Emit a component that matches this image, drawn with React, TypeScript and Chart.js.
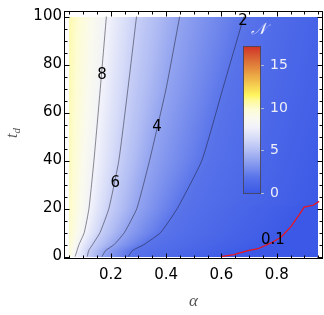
import React, { useEffect, useRef } from "react";
import { Chart, registerables } from "chart.js";
Chart.register(...registerables);

// ---- axis ticks ----
const xTickValues = [0.2, 0.4, 0.6, 0.8];
const yTickValues = [0, 20, 40, 60, 80, 100];
const xMinorStep = 0.05;
const yMinorStep = 5;
const colorbarTicks = [0, 5, 10, 15];

// ---- data domain ----
const alphaMin = 0.05;
const alphaMax = 0.95;
const tdMin = 0;
const tdMax = 100;
const nMin = 0;
const nMax = 17.4;

// ---- contour positions (alpha where N equals the level) at each t_d row ----
const tdRows = [0, 2.5, 5, 10, 20, 40, 70, 100];
const alphaN8 = [0.071, 0.078, 0.085, 0.104, 0.121, 0.139, 0.162, 0.184];
const alphaN6 = [0.115, 0.120, 0.134, 0.161, 0.193, 0.229, 0.262, 0.293];
const alphaN4 = [0.168, 0.181, 0.212, 0.249, 0.294, 0.340, 0.400, 0.449];
const alphaN2 = [0.263, 0.278, 0.320, 0.380, 0.440, 0.529, 0.605, 0.681];
const leftEdgeN = [9.6, 9.8, 10.0, 10.2, 10.3, 10.4, 10.5, 10.6];
const rightEdgeN = [0.02, 0.03, 0.04, 0.06, 0.09, 0.3, 0.6, 0.8];

// ---- N = 0.1 contour (red) ----
const redAlpha = [0.598, 0.645, 0.696, 0.732, 0.779, 0.815, 0.851, 0.880, 0.899, 0.931, 0.953];
const redTd = [0, 0.85, 2.5, 3.3, 5.7, 8.1, 12.5, 17.3, 20.6, 21.4, 23];

// ---- contour labels ----
const contourLabels = ["8", "6", "4", "2", "0.1"];
const labelAlpha = [0.168, 0.216, 0.367, 0.678, 0.786];
const labelTd = [75.5, 30.6, 53.9, 98.2, 6.9];

// colour map (value, r, g, b)
const CMAP: number[][] = [
  [0, 58, 88, 230],
  [1.8, 85, 112, 233],
  [3.4, 130, 150, 238],
  [5, 175, 187, 243],
  [6.6, 215, 220, 248],
  [7.8, 240, 241, 250],
  [9, 250, 250, 238],
  [10, 253, 252, 210],
  [11, 255, 249, 150],
  [11.6, 255, 245, 95],
  [12.6, 246, 212, 82],
  [13.8, 236, 172, 70],
  [15, 226, 132, 60],
  [16.2, 216, 92, 50],
  [17.4, 208, 48, 40],
];

function lerpArr(xs: number[], ys: number[], x: number): number {
  const n = xs.length;
  if (x <= xs[0]) return ys[0];
  if (x >= xs[n - 1]) return ys[n - 1];
  for (let i = 0; i < n - 1; i++) {
    if (x <= xs[i + 1]) {
      const f = (x - xs[i]) / (xs[i + 1] - xs[i] || 1);
      return ys[i] + f * (ys[i + 1] - ys[i]);
    }
  }
  return ys[n - 1];
}

function colorFor(v: number): number[] {
  if (v <= CMAP[0][0]) return CMAP[0].slice(1);
  for (let i = 0; i < CMAP.length - 1; i++) {
    const a = CMAP[i], b = CMAP[i + 1];
    if (v <= b[0]) {
      const f = (v - a[0]) / (b[0] - a[0]);
      return [a[1] + f * (b[1] - a[1]), a[2] + f * (b[2] - a[2]), a[3] + f * (b[3] - a[3])];
    }
  }
  return CMAP[CMAP.length - 1].slice(1);
}

function nAt(alpha: number, td: number): number {
  const kx = [alphaMin, lerpArr(tdRows, alphaN8, td), lerpArr(tdRows, alphaN6, td), lerpArr(tdRows, alphaN4, td), lerpArr(tdRows, alphaN2, td)];
  const ky = [lerpArr(tdRows, leftEdgeN, td), 8, 6, 4, 2];
  let right = lerpArr(tdRows, rightEdgeN, td);
  if (td <= redTd[redTd.length - 1]) {
    const a01 = lerpArr(redTd, redAlpha, td);
    if (a01 < alphaMax) {
      kx.push(a01);
      ky.push(0.1);
      right = Math.min(right, 0.09);
    }
  }
  kx.push(alphaMax);
  ky.push(right);
  return lerpArr(kx, ky, alpha);
}

const densityPlugin = {
  id: "density",
  beforeDatasetsDraw(chart: any) {
    const { ctx, scales } = chart;
    const xs = scales.x, ys = scales.y;
    const x0 = Math.round(xs.getPixelForValue(alphaMin));
    const x1 = Math.round(xs.getPixelForValue(alphaMax));
    const y0 = Math.round(ys.getPixelForValue(tdMax));
    const y1 = Math.round(ys.getPixelForValue(tdMin));
    const w = x1 - x0, h = y1 - y0;
    const off = document.createElement("canvas");
    off.width = w;
    off.height = h;
    const octx = off.getContext("2d")!;
    const img = octx.createImageData(w, h);
    for (let j = 0; j < h; j++) {
      const td = Math.min(tdMax, Math.max(tdMin, ys.getValueForPixel(y0 + j + 0.5)));
      for (let i = 0; i < w; i++) {
        const a = Math.min(alphaMax, Math.max(alphaMin, xs.getValueForPixel(x0 + i + 0.5)));
        const c = colorFor(nAt(a, td));
        const k = (j * w + i) * 4;
        img.data[k] = c[0];
        img.data[k + 1] = c[1];
        img.data[k + 2] = c[2];
        img.data[k + 3] = 255;
      }
    }
    octx.putImageData(img, 0, 0);
    ctx.save();
    ctx.drawImage(off, x0, y0);
    ctx.restore();
  },
};

const overlayPlugin = {
  id: "overlay",
  afterDatasetsDraw(chart: any) {
    const { ctx, chartArea: ca, scales } = chart;
    const xs = scales.x, ys = scales.y;
    ctx.save();
    // contour labels
    ctx.fillStyle = "#000";
    ctx.font = "15px 'DejaVu Sans'";
    ctx.textAlign = "center";
    ctx.textBaseline = "middle";
    contourLabels.forEach((s, i) => {
      ctx.fillText(s, xs.getPixelForValue(labelAlpha[i]), ys.getPixelForValue(labelTd[i]));
    });

    // frame
    ctx.strokeStyle = "#000";
    ctx.lineWidth = 1;
    const L = ca.left + 0.5, R = ca.right - 0.5, T = ca.top + 0.5, B = ca.bottom - 0.5;
    ctx.strokeRect(L, T, R - L, B - T);
    // ticks (inward)
    ctx.beginPath();
    const xMaj = (v: number) => xTickValues.some((m) => Math.abs(m - v) < 1e-6);
    for (let v = 0; v <= 1.0001; v += xMinorStep) {
      const val = Math.round(v * 100) / 100;
      if (val < xs.min || val > xs.max) continue;
      const px = Math.round(xs.getPixelForValue(val)) + 0.5;
      const len = xMaj(val) ? 5 : 3;
      ctx.moveTo(px, B); ctx.lineTo(px, B - len);
      ctx.moveTo(px, T); ctx.lineTo(px, T + len);
    }
    const yMaj = (v: number) => yTickValues.includes(v);
    for (let v = 0; v <= 105; v += yMinorStep) {
      if (v < ys.min || v > ys.max) continue;
      const py = Math.round(ys.getPixelForValue(v)) + 0.5;
      const len = yMaj(v) ? 5 : 3;
      ctx.moveTo(L, py); ctx.lineTo(L + len, py);
      ctx.moveTo(R, py); ctx.lineTo(R - len, py);
    }
    ctx.stroke();

    // colour bar legend
    const bx0 = 243, bx1 = 261, byTop = 46, byBot = 194;
    const vy = (v: number) => byBot - ((v - nMin) / (nMax - nMin)) * (byBot - byTop);
    for (let py = byTop; py < byBot; py++) {
      const v = nMin + ((byBot - (py + 0.5)) / (byBot - byTop)) * (nMax - nMin);
      const c = colorFor(v);
      ctx.fillStyle = `rgb(${c[0]},${c[1]},${c[2]})`;
      ctx.fillRect(bx0, py, bx1 - bx0, 1);
    }
    ctx.strokeStyle = "rgba(70,70,90,0.9)";
    ctx.strokeRect(bx0 + 0.5, byTop + 0.5, bx1 - bx0 - 1, byBot - byTop - 1);
    ctx.strokeStyle = "rgba(190,195,215,0.9)";
    ctx.beginPath();
    colorbarTicks.forEach((v) => {
      const py = Math.round(vy(v)) - 0.5;
      ctx.moveTo(bx1, py); ctx.lineTo(bx1 + 3, py);
    });
    ctx.stroke();
    ctx.fillStyle = "rgb(238,238,248)";
    ctx.font = "14px 'DejaVu Sans'";
    ctx.textAlign = "left";
    ctx.textBaseline = "middle";
    colorbarTicks.forEach((v) => {
      ctx.fillText(String(v), 270, vy(v) - 1);
    });
    ctx.font = "italic 16px 'DejaVu Serif'";
    ctx.textAlign = "center";
    ctx.fillText("𝒩", 258, 30);

    // axis titles
    ctx.fillStyle = "#555";
    ctx.font = "italic 17px 'Liberation Serif'";
    ctx.textAlign = "center";
    ctx.textBaseline = "middle";
    ctx.fillText("α", (ca.left + ca.right) / 2, 302);

    ctx.translate(12, 133);
    ctx.rotate(-Math.PI / 2);
    ctx.textAlign = "left";
    ctx.textBaseline = "alphabetic";
    ctx.font = "italic 16px 'Liberation Serif'";
    const tw = ctx.measureText("t").width;
    ctx.font = "italic 11px 'Liberation Serif'";
    const dw = ctx.measureText("d").width;
    const startX = -(tw + dw) / 2;
    ctx.font = "italic 16px 'Liberation Serif'";
    ctx.fillText("t", startX, 5);
    ctx.font = "italic 11px 'Liberation Serif'";
    ctx.fillText("d", startX + tw, 8);
    ctx.restore();
  },
};

const contourStyle = { showLine: true, pointRadius: 0, borderWidth: 1, borderColor: "rgba(25,25,40,0.5)", tension: 0.15, fill: false };

export default function App() {
  const ref = useRef<HTMLCanvasElement>(null);
  useEffect(() => {
    document.body.style.margin = "0";
    const toPts = (arr: number[]) => arr.map((a, i) => ({ x: a, y: tdRows[i] }));
    const chart = new Chart(ref.current!, {
      type: "scatter",
      data: {
        datasets: [
          { ...contourStyle, data: toPts(alphaN8) },
          { ...contourStyle, data: toPts(alphaN6) },
          { ...contourStyle, data: toPts(alphaN4) },
          { ...contourStyle, data: toPts(alphaN2) },
          { ...contourStyle, borderColor: "rgb(235,20,30)", borderWidth: 1.2, tension: 0, data: redAlpha.map((a, i) => ({ x: a, y: redTd[i] })) },
        ],
      },
      options: {
        responsive: false,
        devicePixelRatio: 1,
        animation: false,
        events: [],
        layout: { padding: { top: 2, right: 1, left: 0, bottom: 0 } },
        plugins: { legend: { display: false }, tooltip: { enabled: false } },
        scales: {
          x: {
            type: "linear",
            min: 0.0308,
            max: 0.967,
            afterBuildTicks: (s: any) => { s.ticks = xTickValues.map((v) => ({ value: v })); },
            afterFit: (s: any) => { s.height = 56; },
            grid: { display: false, drawTicks: false },
            border: { display: false },
            ticks: { font: { family: "'DejaVu Sans'", size: 15 }, color: "#000", padding: 7, maxRotation: 0, callback: (v: any) => Number(v).toFixed(1) },
          },
          y: {
            type: "linear",
            min: -1.0,
            max: 102.3,
            afterBuildTicks: (s: any) => { s.ticks = yTickValues.map((v) => ({ value: v })); },
            afterFit: (s: any) => { s.width = 64; },
            grid: { display: false, drawTicks: false },
            border: { display: false },
            ticks: { font: { family: "'DejaVu Sans'", size: 15 }, color: "#000", padding: 2, callback: (v: any) => String(v) },
          },
        },
      },
      plugins: [densityPlugin, overlayPlugin],
    } as any);
    return () => chart.destroy();
  }, []);
  return (
    <div style={{ position: "fixed", left: 0, top: 0, width: 324, height: 315, background: "#fff" }}>
      <canvas ref={ref} width={324} height={315} style={{ display: "block" }} />
    </div>
  );
}
